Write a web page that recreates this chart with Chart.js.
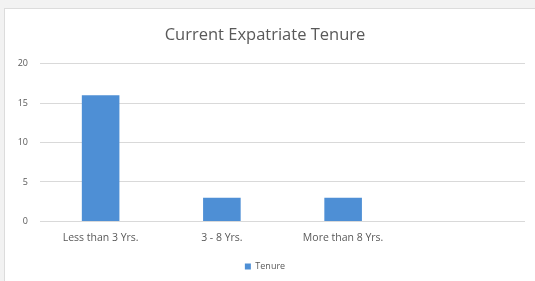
<!DOCTYPE html>
<html>
<head>
<meta charset="utf-8">
<script src="https://cdn.jsdelivr.net/npm/chart.js@4"></script>
<style>
  html, body { margin: 0; padding: 0; background: #f2f2f2; width: 535px; height: 281px; overflow: hidden; }
  #frame { position: absolute; left: 4px; top: 8px; width: 531px; height: 273px; background: #ffffff; border-left: 1px solid #dcdcdc; border-top: 1px solid #dcdcdc; }
  #chart { position: absolute; left: 0; top: 0; }
</style>
</head>
<body>
<div id="frame"><canvas id="chart" width="530" height="272"></canvas></div>
<script>
// ===================== Data =====================
const categories = ['Less than 3 Yrs.', '3 - 8 Yrs.', 'More than 8 Yrs.', ''];
const tenureValues = [16, 3, 3, null];
const seriesName = 'Tenure';
const yTicks = [0, 5, 10, 15, 20];

// ===================== Chart =====================
(function () {
  const canvas = document.getElementById('chart');
  const grey = '#595959';

  new Chart(canvas, {
    type: 'bar',
    data: {
      labels: categories,
      datasets: [{
        label: seriesName,
        data: tenureValues,
        backgroundColor: '#4e8fd5',
        borderWidth: 0,
        categoryPercentage: 1,
        barPercentage: 0.31
      }]
    },
    options: {
      responsive: false,
      animation: false,
      layout: { padding: { left: 0, right: 10, top: 7, bottom: 0 } },
      plugins: {
        title: {
          display: true,
          text: 'Current Expatriate Tenure',
          color: grey,
          font: { family: 'Open Sans', size: 16.5, weight: 'normal' },
          padding: { top: 9, bottom: 19 }
        },
        legend: {
          position: 'bottom',
          labels: {
            color: grey,
            font: { family: 'Open Sans', size: 9 },
            boxWidth: 6,
            boxHeight: 6,
            padding: 9
          }
        },
        tooltip: { enabled: false }
      },
      scales: {
        x: {
          afterFit: function (scale) { scale.height += 7; },
          grid: { display: false },
          border: { display: false },
          ticks: { color: grey, font: { family: 'Open Sans', size: 10.5 }, maxRotation: 0, padding: 2 }
        },
        y: {
          min: 0,
          max: 20,
          afterFit: function (scale) { scale.width = 35; },
          afterBuildTicks: function (scale) {
            scale.ticks = yTicks.map(function (v) { return { value: v }; });
          },
          grid: { color: '#d9d9d9', drawTicks: false },
          border: { display: false },
          ticks: { color: grey, font: { family: 'Open Sans', size: 9 }, padding: 12 }
        }
      }
    }
  });
})();
</script>
</body>
</html>
